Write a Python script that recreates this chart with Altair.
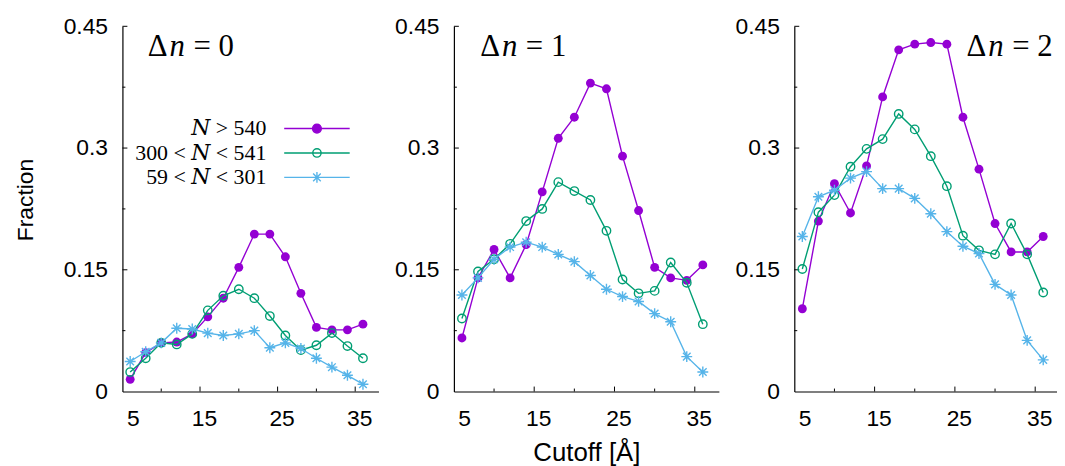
import altair as alt
import pandas as pd

# ---------------- data ----------------
cutoff = [6, 8, 10, 12, 14, 16, 18, 20, 22, 24, 26, 28, 30, 32, 34, 36]
series = ["N > 540", "300 < N < 541", "59 < N < 301"]
delta_n = ["0", "1", "2"]

dn0_large = [0.015, 0.048, 0.060, 0.061, 0.071, 0.092, 0.115, 0.153, 0.194, 0.194, 0.166, 0.121, 0.079, 0.076, 0.076, 0.083]
dn0_mid   = [0.024, 0.041, 0.060, 0.058, 0.071, 0.100, 0.118, 0.126, 0.115, 0.093, 0.069, 0.051, 0.057, 0.072, 0.056, 0.041]
dn0_small = [0.037, 0.049, 0.060, 0.078, 0.077, 0.072, 0.069, 0.071, 0.075, 0.054, 0.060, 0.053, 0.041, 0.030, 0.020, 0.009]

dn1_large = [0.066, 0.140, 0.175, 0.140, 0.181, 0.246, 0.312, 0.338, 0.380, 0.373, 0.290, 0.223, 0.153, 0.140, 0.137, 0.156]
dn1_mid   = [0.090, 0.148, 0.163, 0.182, 0.210, 0.225, 0.258, 0.247, 0.236, 0.198, 0.138, 0.121, 0.124, 0.159, 0.134, 0.083]
dn1_small = [0.119, 0.140, 0.163, 0.178, 0.184, 0.178, 0.169, 0.160, 0.143, 0.126, 0.117, 0.111, 0.096, 0.086, 0.043, 0.024]

dn2_large = [0.102, 0.210, 0.256, 0.220, 0.278, 0.363, 0.421, 0.428, 0.430, 0.428, 0.338, 0.274, 0.207, 0.172, 0.172, 0.191]
dn2_mid   = [0.151, 0.221, 0.242, 0.277, 0.299, 0.311, 0.342, 0.323, 0.290, 0.253, 0.192, 0.174, 0.169, 0.207, 0.169, 0.122]
dn2_small = [0.191, 0.240, 0.248, 0.263, 0.271, 0.250, 0.250, 0.238, 0.219, 0.197, 0.179, 0.170, 0.132, 0.119, 0.063, 0.039]

x_labels = [5, 15, 25, 35]
y_labels = [0, 0.15, 0.3, 0.45]
x_ticks_major = [15, 25, 35]
x_ticks_minor = [10, 20, 30]
y_ticks_major = [0.15, 0.3, 0.45]
y_ticks_minor = [0.075, 0.225, 0.375]
y_title = "Fraction"
x_title = "Cutoff [Å]"

panel_lists = [
    [dn0_large, dn0_mid, dn0_small],
    [dn1_large, dn1_mid, dn1_small],
    [dn2_large, dn2_mid, dn2_small],
]
rows = []
for dn, lists in zip(delta_n, panel_lists):
    for s, vals in zip(series, lists):
        for c, v in zip(cutoff, vals):
            rows.append({"dn": dn, "series": s, "cutoff": c, "fraction": v})
df = pd.DataFrame(rows)

# ---------------- style ----------------
PURPLE, GREEN, BLUE = "#9400d3", "#009e73", "#56b4e9"
SANS = "Liberation Sans"
SERIF = "Liberation Serif"
H = 368

ASTER = "M-1,0L1,0M0,-1L0,1M-0.7,-0.7L0.7,0.7M-0.7,0.7L0.7,-0.7"
# legend sample shapes (line + marker), unit = 12px
LEG_FILLED = "M-2.75,0L2.75,0M0.37,0A0.37,0.37,0,1,1,-0.37,0A0.37,0.37,0,1,1,0.37,0Z"
LEG_OPEN = "M-2.75,0L2.75,0M0.35,0A0.35,0.35,0,1,1,-0.35,0A0.35,0.35,0,1,1,0.35,0Z"
LEG_ASTER = ("M-2.75,0L2.75,0M0,-0.45L0,0.45M-0.32,-0.32L0.32,0.32M-0.32,0.32L0.32,-0.32")

point_styles = [
    dict(shape="circle", filled=True, color=PURPLE, size=80, opacity=1),
    dict(shape="circle", filled=False, color=GREEN, size=72, strokeWidth=1.4, opacity=1),
    dict(shape=ASTER, filled=False, color=BLUE, size=120, strokeWidth=1.4, opacity=1),
]
line_colors = [PURPLE, GREEN, BLUE]


def make_panel(i, width, xmax, title_x):
    d = df[df.dn == delta_n[i]]
    base = alt.Chart(d)
    xkw = dict(values=x_labels, format="d", labelPadding=16, labelOffset=4)
    if i == 1:
        xaxis = alt.Axis(title=x_title, titleFontSize=26, titleY=70,
                         titleBaseline="alphabetic", **xkw)
    else:
        xaxis = alt.Axis(title=None, **xkw)
    yaxis = alt.Axis(title=None, values=y_labels, format=".2~f", labelPadding=15)
    x = alt.X("cutoff:Q", scale=alt.Scale(domain=[5, xmax], nice=False, zero=False), axis=xaxis)
    y = alt.Y("fraction:Q", scale=alt.Scale(domain=[0, 0.45], nice=False, zero=False), axis=yaxis)

    layers = []
    # inward ticks
    layers.append(alt.Chart(pd.DataFrame({"fraction": y_ticks_major})).mark_rule(color="black", strokeWidth=1)
                  .encode(y=y, x=alt.value(0), x2=alt.value(5)))
    layers.append(alt.Chart(pd.DataFrame({"fraction": y_ticks_minor})).mark_rule(color="black", strokeWidth=1)
                  .encode(y=y, x=alt.value(0), x2=alt.value(3)))
    layers.append(alt.Chart(pd.DataFrame({"cutoff": x_ticks_major})).mark_rule(color="black", strokeWidth=1)
                  .encode(x=x, y=alt.value(H), y2=alt.value(H - 5)))
    layers.append(alt.Chart(pd.DataFrame({"cutoff": x_ticks_minor})).mark_rule(color="black", strokeWidth=1)
                  .encode(x=x, y=alt.value(H), y2=alt.value(H - 3)))

    for s, col, ps in zip(series, line_colors, point_styles):
        sd = base.transform_filter(alt.datum.series == s)
        layers.append(sd.mark_line(color=col, strokeWidth=1.4).encode(x=x, y=y))
        layers.append(sd.mark_point(**ps).encode(x=x, y=y))

    # panel label  Δn = k
    tstyle = dict(align="left", baseline="alphabetic", font=SERIF, fontSize=31, color="black")
    layers.append(alt.Chart(pd.DataFrame({"t": ["Δ"]})).mark_text(**tstyle)
                  .encode(text="t:N", x=alt.value(title_x), y=alt.value(30)))
    layers.append(alt.Chart(pd.DataFrame({"t": ["n"]})).mark_text(fontStyle="italic", **tstyle)
                  .encode(text="t:N", x=alt.value(title_x + 22), y=alt.value(30)))
    layers.append(alt.Chart(pd.DataFrame({"t": ["= " + delta_n[i]]})).mark_text(**tstyle)
                  .encode(text="t:N", x=alt.value(title_x + 46), y=alt.value(30)))

    if i == 0:
        # rotated y title
        layers.append(alt.Chart(pd.DataFrame({"t": [y_title]})).mark_text(
            angle=270, align="center", baseline="alphabetic", font=SANS, fontSize=23, color="black")
            .encode(text="t:N", x=alt.value(-90), y=alt.value(175)))
        leg = alt.Legend(title=None, orient="none", legendX=183, legendY=90, padding=0,
                         symbolSize=576, symbolStrokeWidth=1.4, labelAlign="right",
                         labelOffset={"expr": "-64"},
                         labelFont="Liberation Serif, DejaVu Serif, serif", labelFontSize=22,
                         labelColor="black", labelLimit=400, rowPadding=0.6,
                         labelExpr="replace(datum.label, 'N', '𝑁')")
        layers.append(
            base.mark_point(opacity=1, strokeWidth=1.4).transform_filter("false").encode(
                color=alt.Color("series:N", scale=alt.Scale(domain=series, range=line_colors), legend=leg),
                shape=alt.Shape("series:N", scale=alt.Scale(domain=series, range=[LEG_FILLED, LEG_OPEN, LEG_ASTER]), legend=leg),
                fill=alt.Fill("series:N", scale=alt.Scale(domain=series, range=[PURPLE, "transparent", "transparent"]), legend=leg),
            )
        )
    return alt.layer(*layers).properties(width=width, height=H)


p0 = make_panel(0, 258, 38, 25.5)
p1 = make_panel(1, 267, 38, 26.5)
p2 = make_panel(2, 267, 38, 173.5)

chart = (
    alt.hconcat(p0, p1, p2, spacing=76, bounds="flush")
    .resolve_scale(x="independent", y="independent", color="independent",
                   shape="independent", fill="independent")
    .properties(autosize=alt.AutoSizeParams(type="none"),
                padding={"left": 115.3, "top": 15.3, "right": 941.7, "bottom": 442.7})
    .configure_view(stroke=None)
    .configure_axis(labelFont=SANS, labelFontSize=23, labelColor="black",
                    titleFont=SANS, titleFontWeight="normal", titleColor="black",
                    domainColor="black", domainWidth=1.2, ticks=False, grid=False)
)

chart.save("out.html", embed_options={"renderer": "svg", "actions": False})
